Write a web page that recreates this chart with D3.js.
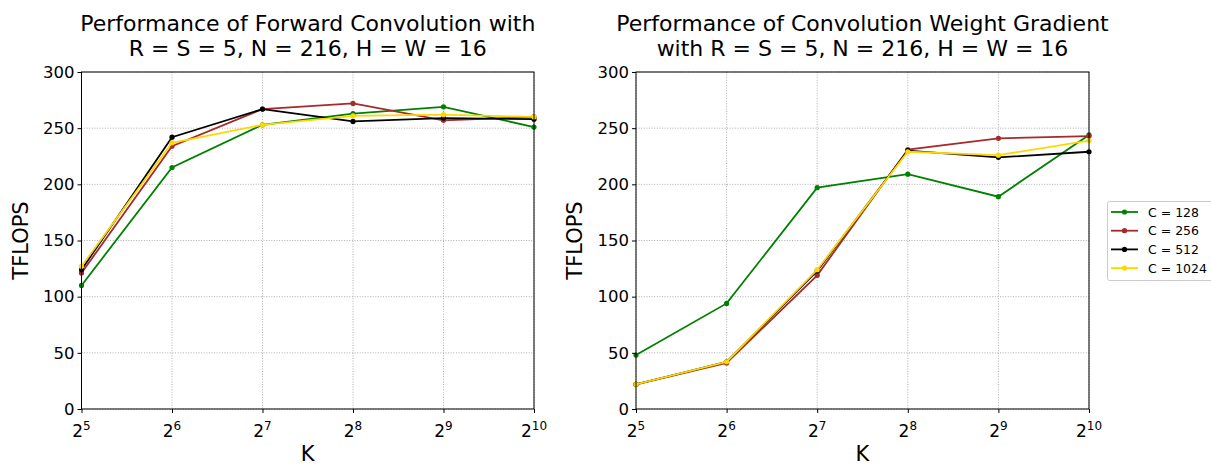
<!DOCTYPE html>
<html>
<head>
<meta charset="utf-8">
<script src="https://cdn.jsdelivr.net/npm/d3@7"></script>
<style>
  body { margin: 0; background: #fff; }
  text { font-family: "DejaVu Sans", sans-serif; fill: #000; }
</style>
</head>
<body>
<div id="chart"></div>
<script>
// data
var exponents = [5, 6, 7, 8, 9, 10];
var seriesNames = ["C = 128", "C = 256", "C = 512", "C = 1024"];
var seriesColors = ["green", "brown", "black", "gold"];
var yTicks = [0, 50, 100, 150, 200, 250, 300];

// forward convolution
var fwd128 = [110, 215, 253, 263, 269, 251];
var fwd256 = [121, 234, 267, 272, 257, 260];
var fwd512 = [124, 242, 267, 256, 259, 258];
var fwd1024 = [127, 237, 253, 261, 262, 260];

// weight gradient
var wgrad128 = [48, 94, 197, 209, 189, 244];
var wgrad256 = [22, 41, 119, 231, 241, 243];
var wgrad512 = [22, 42, 123, 230, 224, 229];
var wgrad1024 = [22, 42, 124, 229, 226, 239];

var titles = [
    ["Performance of Forward Convolution with", "R = S = 5, N = 216, H = W = 16"],
    ["Performance of Convolution Weight Gradient", "with R = S = 5, N = 216, H = W = 16"]
];

var width = 1211, height = 466;

var svg = d3.select("#chart").append("svg")
    .attr("width", width)
    .attr("height", height);

function drawPanel(left, right, titleLines, data) {
    var top = 72, bottom = 409;

    var x = d3.scaleLinear().domain([5, 10]).range([left, right]);
    var y = d3.scaleLinear().domain([0, 300]).range([bottom, top]);

    var g = svg.append("g");

    // grid
    g.selectAll("line.vgrid")
        .data(exponents)
        .enter().append("line")
        .attr("x1", function(d) { return x(d); })
        .attr("x2", function(d) { return x(d); })
        .attr("y1", top).attr("y2", bottom)
        .attr("stroke", "#999").attr("stroke-width", 0.8)
        .attr("stroke-dasharray", "1,1.6");

    g.selectAll("line.hgrid")
        .data(yTicks)
        .enter().append("line")
        .attr("x1", left).attr("x2", right)
        .attr("y1", function(d) { return y(d); })
        .attr("y2", function(d) { return y(d); })
        .attr("stroke", "#999").attr("stroke-width", 0.8)
        .attr("stroke-dasharray", "1,1.6");

    // lines
    var line = d3.line()
        .x(function(d, i) { return x(exponents[i]); })
        .y(function(d) { return y(d); });

    data.forEach(function(vals, s) {
        g.append("path")
            .attr("d", line(vals))
            .attr("fill", "none")
            .attr("stroke", seriesColors[s])
            .attr("stroke-width", 1.8);
        g.selectAll("circle.s" + s)
            .data(vals)
            .enter().append("circle")
            .attr("cx", function(d, i) { return x(exponents[i]); })
            .attr("cy", function(d) { return y(d); })
            .attr("r", 2.6)
            .attr("fill", seriesColors[s]);
    });

    // frame
    g.append("rect")
        .attr("x", left).attr("y", top)
        .attr("width", right - left).attr("height", bottom - top)
        .attr("fill", "none").attr("stroke", "#000").attr("stroke-width", 1);

    // y axis
    var yAxis = g.append("g")
        .attr("transform", "translate(" + left + ",0)")
        .call(d3.axisLeft(y).tickValues(yTicks).tickSize(4).tickPadding(3));
    yAxis.select(".domain").remove();
    yAxis.selectAll("text").style("font-size", "16.5px").style("font-family", "DejaVu Sans");

    // x axis
    var xAxis = g.append("g")
        .attr("transform", "translate(0," + bottom + ")")
        .call(d3.axisBottom(x).tickValues(exponents).tickSize(4).tickFormat(""));
    xAxis.select(".domain").remove();

    var xl = g.selectAll("text.xt")
        .data(exponents)
        .enter().append("text")
        .attr("class", "xt")
        .attr("x", function(d) { return x(d); })
        .attr("y", 437)
        .attr("text-anchor", "middle")
        .style("font-size", "17px");
    xl.append("tspan").text("2");
    xl.append("tspan")
        .attr("dy", -7)
        .style("font-size", "12px")
        .text(function(d) { return d; });

    // axis labels
    g.append("text")
        .attr("x", (left + right) / 2)
        .attr("y", 461)
        .attr("text-anchor", "middle")
        .style("font-size", "21px")
        .text("K");

    g.append("text")
        .attr("transform", "translate(" + (left - 54) + "," + ((top + bottom) / 2) + ") rotate(-90)")
        .attr("text-anchor", "middle")
        .style("font-size", "21px")
        .text("TFLOPS");

    // title
    titleLines.forEach(function(t, i) {
        g.append("text")
            .attr("x", (left + right) / 2)
            .attr("y", 31 + i * 25)
            .attr("text-anchor", "middle")
            .style("font-size", "22px")
            .text(t);
    });
}

drawPanel(81.5, 534, titles[0], [fwd128, fwd256, fwd512, fwd1024]);
drawPanel(636, 1089, titles[1], [wgrad128, wgrad256, wgrad512, wgrad1024]);

// legend
var legend = svg.append("g").attr("transform", "translate(1107,201)");
legend.append("rect")
    .attr("x", 0.5).attr("y", 0.5)
    .attr("width", 110).attr("height", 79)
    .attr("fill", "#fff").attr("stroke", "#ccc").attr("rx", 2);

seriesNames.forEach(function(name, i) {
    var yy = 11 + i * 18.7;
    legend.append("line")
        .attr("x1", 4).attr("x2", 31)
        .attr("y1", yy).attr("y2", yy)
        .attr("stroke", seriesColors[i]).attr("stroke-width", 1.8);
    legend.append("circle")
        .attr("cx", 17.5).attr("cy", yy).attr("r", 2.6)
        .attr("fill", seriesColors[i]);
    legend.append("text")
        .attr("x", 41).attr("y", yy + 4.5)
        .style("font-size", "12.5px")
        .text(name);
});
</script>
</body>
</html>
